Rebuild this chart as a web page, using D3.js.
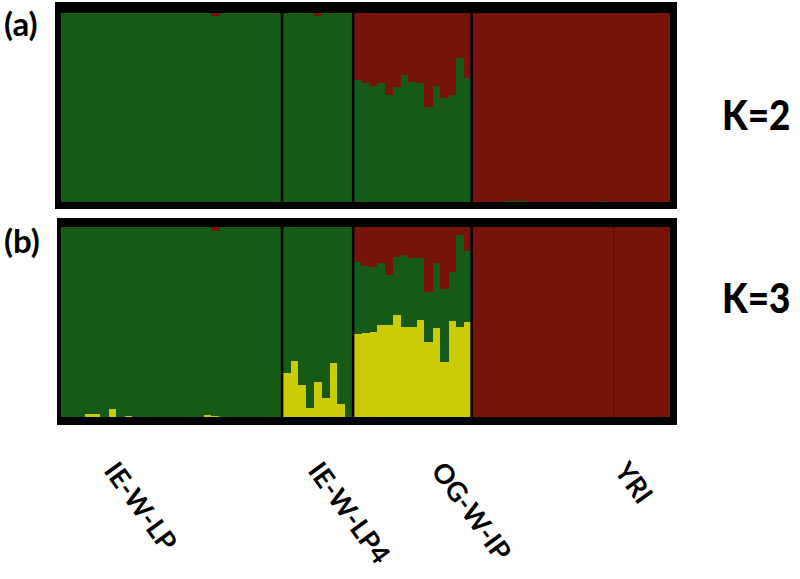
<!DOCTYPE html>
<html>
<head>
<meta charset="utf-8">
<script src="https://cdn.jsdelivr.net/npm/d3@7/dist/d3.min.js"></script>
<style>
  html, body { margin: 0; padding: 0; background: #ffffff; }
  svg { display: block; }
  text { font-family: Lato, "Open Sans", "DejaVu Sans", sans-serif; font-weight: 700; fill: #000; }
</style>
</head>
<body>
<div id="chart"></div>
<script>
// ---------------- DATA ----------------
const groups = ["IE-W-LP", "IE-W-LP4", "OG-W-IP", "YRI"];
const groupSizes = [28, 9, 15, 25];
const panelLabels = ["(a)", "(b)"];
const kLabels = ["K=2", "K=3"];
const clusterNames = ["green", "red", "yellow"];

// K=2 : red ancestry fraction per individual (remainder green)
const k2Red_IEWLP = [0,0,0,0,0,0,0,0,0,0,0,0,0,0,0,0,0,0,0,0.016,0,0,0,0,0,0,0,0];
const k2Red_IEWLP4 = [0,0,0,0,0.016,0,0,0,0];
const k2Red_OGWIP = [0.354,0.369,0.386,0.372,0.434,0.393,0.328,0.363,0.369,0.497,0.386,0.451,0.434,0.240,0.345];
const k2Red_YRI = [1,1,1,1,0.994,0.994,0.994,1,1,1,1,1,1,1,1,1,0.994,1,1,1,1,1,1,1,1];

// K=3 : red and yellow ancestry fractions per individual (remainder green)
const k3Red_IEWLP = [0,0,0,0,0,0,0,0,0,0,0,0,0,0,0,0,0,0,0,0.02,0,0,0,0,0,0,0,0];
const k3Yellow_IEWLP = [0,0,0,0.018,0.018,0,0.042,0,0.006,0,0,0,0,0,0,0,0,0,0.008,0.006,0,0,0,0,0,0,0,0];
const k3Red_IEWLP4 = [0,0,0,0,0,0,0,0,0];
const k3Yellow_IEWLP4 = [0.23,0.296,0.168,0.046,0.183,0.102,0.286,0.067,0];
const k3Red_OGWIP = [0.184,0.205,0.209,0.188,0.253,0.158,0.147,0.165,0.162,0.343,0.191,0.326,0.235,0.042,0.126];
const k3Yellow_OGWIP = [0.435,0.44,0.449,0.484,0.484,0.537,0.475,0.475,0.51,0.396,0.47,0.291,0.505,0.475,0.502];
const k3Red_YRI = [1,1,1,1,1,1,1,1,1,1,1,1,1,1,1,1,1,1,1,1,1,1,1,1,1];
const k3Yellow_YRI = [0,0,0,0,0,0,0,0,0,0,0,0,0,0,0,0,0,0,0,0,0,0,0,0,0];

// ---------------- BUILD ROWS ----------------
const k2Red = [].concat(k2Red_IEWLP, k2Red_IEWLP4, k2Red_OGWIP, k2Red_YRI);
const k3Red = [].concat(k3Red_IEWLP, k3Red_IEWLP4, k3Red_OGWIP, k3Red_YRI);
const k3Yellow = [].concat(k3Yellow_IEWLP, k3Yellow_IEWLP4, k3Yellow_OGWIP, k3Yellow_YRI);
const N = k2Red.length;

const rowsK2 = d3.range(N).map(i => ({id: i, yellow: 0, green: 1 - k2Red[i], red: k2Red[i]}));
const rowsK3 = d3.range(N).map(i => ({id: i, yellow: k3Yellow[i], green: Math.max(0, 1 - k3Red[i] - k3Yellow[i]), red: k3Red[i]}));

// ---------------- LAYOUT ----------------
const W = 800, H = 579;
const colors = {green: "#155a15", red: "#761409", yellow: "#cccc06"};
const panels = [
  {rows: rowsK2, outer: [55, 2, 677, 209], inner: [13, 202], label: panelLabels[0], k: kLabels[0], labelY: 36, kY: 130, subSep: false},
  {rows: rowsK3, outer: [57, 218, 677, 425], inner: [227, 417], label: panelLabels[1], k: kLabels[1], labelY: 253, kY: 313, subSep: true}
];

const svg = d3.select("#chart").append("svg").attr("width", W).attr("height", H);

const x = d3.scaleBand().domain(d3.range(N)).range([61, 669]).paddingInner(0).paddingOuter(0);
const stack = d3.stack().keys(["yellow", "green", "red"]);
const groupStarts = d3.cumsum(groupSizes).map((c, i) => c - groupSizes[i]);

panels.forEach(p => {
  const g = svg.append("g");
  const [x0, y0, x1, y1] = p.outer;
  g.append("rect").attr("x", x0).attr("y", y0).attr("width", x1 - x0).attr("height", y1 - y0).attr("fill", "#000");

  const y = d3.scaleLinear().domain([0, 1]).range([p.inner[1], p.inner[0]]);
  const series = stack(p.rows);
  g.selectAll("g.layer").data(series).join("g")
    .attr("class", "layer")
    .attr("fill", d => colors[d.key])
    .attr("shape-rendering", "crispEdges")
    .selectAll("rect").data(d => d).join("rect")
      .attr("x", d => x(d.data.id))
      .attr("width", x.bandwidth() + 0.6)
      .attr("y", d => y(d[1]))
      .attr("height", d => Math.max(0, y(d[0]) - y(d[1])));

  // population separators
  groupStarts.slice(1).forEach(s => {
    g.append("line")
      .attr("x1", x(s)).attr("x2", x(s))
      .attr("y1", p.inner[0]).attr("y2", p.inner[1])
      .attr("stroke", "#000").attr("stroke-width", 2.5);
  });
  if (p.subSep) {
    const s = groupStarts[3] + 18;
    g.append("line")
      .attr("x1", x(s)).attr("x2", x(s))
      .attr("y1", p.inner[0]).attr("y2", p.inner[1])
      .attr("stroke", "#000").attr("stroke-opacity", 0.25).attr("stroke-width", 1);
  }

  svg.append("text").attr("x", 4).attr("y", p.labelY).attr("font-size", 33).text(p.label);
  svg.append("text")
    .attr("transform", `translate(722,${p.kY}) scale(0.88,1)`)
    .attr("font-size", 42).style("font-weight", 900).text(p.k);
});

// population labels (rotated)
const labelOffsets = [42, 25, 77, 142];
groups.forEach((name, i) => {
  const lx = x(groupStarts[i]) + labelOffsets[i];
  const ly = 471;
  svg.append("text")
    .attr("transform", `translate(${lx},${ly}) rotate(54)`)
    .attr("font-size", 27)
    .text(name);
});
</script>
</body>
</html>
